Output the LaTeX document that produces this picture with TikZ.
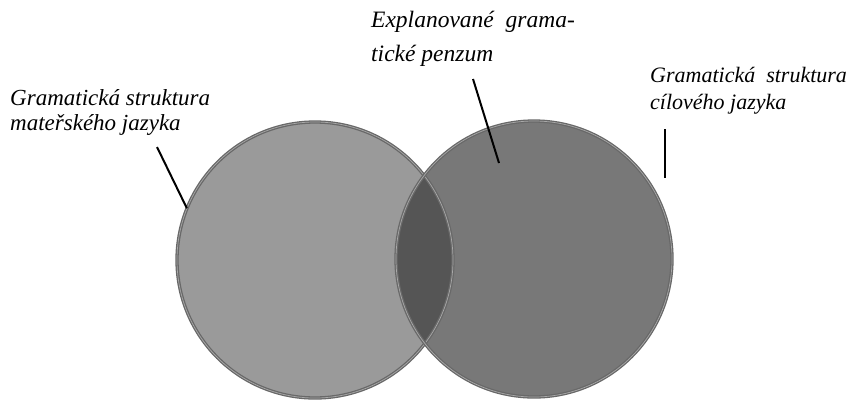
\documentclass[tikz,border=0pt]{standalone}
\usepackage{fontspec}
\setmainfont{Liberation Serif}
\definecolor{leftfill}{HTML}{9A9A9A}
\definecolor{rightfill}{HTML}{787878}
\definecolor{overfill}{HTML}{555555}
\definecolor{rimdark}{HTML}{686868}
\definecolor{rimlight}{HTML}{A8A8A8}
\begin{document}
\begin{tikzpicture}[x=1pt,y=-1pt,
  lbl/.style={inner sep=0pt, anchor=north west, align=left,
    font=\fontsize{23}{25}\selectfont\itshape},
  rim/.style={draw=rimdark, double=rimlight, line width=1.3pt, double distance=0.7pt},
  ring/.style={circle, inner sep=0pt, minimum size=276pt},
  lead/.style={line width=2pt, black}]
\useasboundingbox (0,0) rectangle (856,400);
% circles
\node[ring] (L) at (315,260) {};
\node[ring] (R) at (534,259) {};
\fill[leftfill] (L.center) circle (138);
\fill[rightfill] (R.center) circle (138);
\begin{scope}
  \clip (L.center) circle (138);
  \fill[overfill] (R.center) circle (138);
\end{scope}
\draw[rim] (L.center) circle (138);
\draw[rim] (R.center) circle (138);
% labels
\node[lbl] (tl) at (10,89) {Gramatická struktura\\mateřského jazyka};
\node[lbl, font=\fontsize{23.5}{34}\selectfont\itshape] (tm) at (371,11) {Explanované~ grama-\\tické penzum};
\node[lbl, font=\fontsize{22}{27}\selectfont\itshape] (tr) at (650,67) {Gramatická~ struktura\\cílového jazyka};
% leaders
\coordinate (a1) at (157,147);
\coordinate (m1) at (473,79);
\coordinate (m2) at (499,163);
\coordinate (r1) at (665,129);
\coordinate (r2) at (665,178);
\draw[lead] (a1) -- (L.158);
\draw[lead] (m1) -- (m2);
\draw[lead] (r1) -- (r2);
\end{tikzpicture}
\end{document}
